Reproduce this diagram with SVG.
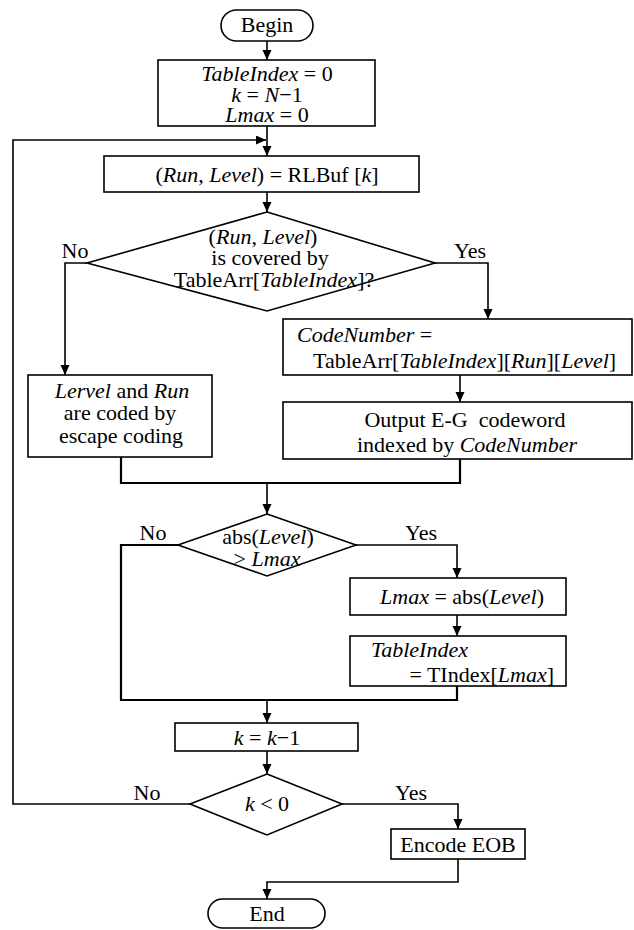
<svg xmlns="http://www.w3.org/2000/svg" width="634" height="930" viewBox="0 0 634 930" font-family="'Liberation Serif', 'Times New Roman', serif" font-size="22">
<style>
  .shape { fill: #ffffff; stroke: #000000; stroke-width: 1.6; }
  .wire { fill: none; stroke: #000000; stroke-width: 1.6; }
  .bold { stroke-width: 2.2; }
  .arrow { marker-end: url(#head); }
  .c { text-anchor: middle; }
  .i { font-style: italic; }
</style>
<defs>
  <marker id="head" markerUnits="userSpaceOnUse" markerWidth="11" markerHeight="10" refX="10" refY="4.5" orient="auto">
    <path d="M0,0 L10,4.5 L0,9 z" fill="#000000"/>
  </marker>
</defs>

<g id="connectors">
  <path class="wire arrow" d="M267,41 V60"/>
  <path class="wire arrow" d="M267,126 V156"/>
  <path class="wire arrow" d="M190,804 H13 V140 H266"/>
  <path class="wire arrow" d="M267,192 V212"/>
  <path class="wire arrow" d="M87,263 H65 V375"/>
  <path class="wire arrow" d="M435,263 H488 V319"/>
  <path class="wire arrow" d="M460,375 V402"/>
  <path class="wire bold" d="M121,457 V483 H460 V459"/>
  <path class="wire arrow" d="M267,483 V514"/>
  <path class="wire bold" d="M178,545 H121 V700 H457 V686"/>
  <path class="wire arrow" d="M356,545 H457 V578"/>
  <path class="wire arrow" d="M457,615 V636"/>
  <path class="wire arrow" d="M267,700 V723"/>
  <path class="wire arrow" d="M267,751 V774"/>
  <path class="wire arrow" d="M342,804 H458 V829"/>
  <path class="wire arrow" d="M458,859 V882 H267 V899"/>
  <text x="75" y="258" class="c">No</text>
  <text x="470" y="258" class="c">Yes</text>
  <text x="153" y="540" class="c">No</text>
  <text x="421" y="540" class="c">Yes</text>
  <text x="147" y="800" class="c">No</text>
  <text x="411" y="800" class="c">Yes</text>
</g>

<g id="begin">
  <rect class="shape" x="221" y="10" width="92" height="31" rx="15.5"/>
  <text x="267" y="32" class="c">Begin</text>
</g>

<g id="init">
  <rect class="shape" x="158" y="60" width="217" height="66"/>
  <text x="267" y="81" class="c"><tspan class="i">TableIndex</tspan> = 0</text>
  <text x="267" y="102" class="c"><tspan class="i">k</tspan> = <tspan class="i">N</tspan>−1</text>
  <text x="267" y="122" class="c"><tspan class="i">Lmax</tspan> = 0</text>
</g>

<g id="fetch">
  <rect class="shape" x="104" y="156" width="315" height="36"/>
  <text x="267" y="182" class="c">(<tspan class="i">Run</tspan>, <tspan class="i">Level</tspan>) = RLBuf [<tspan class="i">k</tspan>]</text>
</g>

<g id="covered">
  <polygon class="shape" points="267,212 435,263 267,311 87,263"/>
  <text x="263" y="244" class="c">(<tspan class="i">Run</tspan>, <tspan class="i">Level</tspan>)</text>
  <text x="270" y="265" class="c">is covered by</text>
  <text x="274" y="287" class="c">TableArr[<tspan class="i">TableIndex</tspan>]?</text>
</g>

<g id="codenumber">
  <rect class="shape" x="283" y="319" width="349" height="56"/>
  <text x="297" y="342"><tspan class="i">CodeNumber</tspan> =</text>
  <text x="313" y="368">TableArr[<tspan class="i">TableIndex</tspan>][<tspan class="i">Run</tspan>][<tspan class="i">Level</tspan>]</text>
</g>

<g id="escape">
  <rect class="shape" x="28" y="375" width="184" height="82"/>
  <text x="122" y="398" class="c"><tspan class="i">Lervel</tspan> and <tspan class="i">Run</tspan></text>
  <text x="120" y="420" class="c">are coded by</text>
  <text x="121" y="443" class="c">escape coding</text>
</g>

<g id="output">
  <rect class="shape" x="283" y="402" width="349" height="57"/>
  <text x="465" y="427" class="c" xml:space="preserve">Output E-G  codeword</text>
  <text x="467" y="452" class="c">indexed by <tspan class="i">CodeNumber</tspan></text>
</g>

<g id="compare">
  <polygon class="shape" points="267,514 356,545 267,576 178,545"/>
  <text x="268" y="544" class="c">abs(<tspan class="i">Level</tspan>)</text>
  <text x="267" y="566" class="c">&gt; <tspan class="i">Lmax</tspan></text>
</g>

<g id="update-lmax">
  <rect class="shape" x="350" y="578" width="216" height="37"/>
  <text x="462" y="604" class="c"><tspan class="i">Lmax</tspan> = abs(<tspan class="i">Level</tspan>)</text>
</g>

<g id="update-index">
  <rect class="shape" x="350" y="636" width="216" height="50"/>
  <text x="371" y="657" class="i">TableIndex</text>
  <text x="554" y="682" text-anchor="end">= TIndex[<tspan class="i">Lmax</tspan>]</text>
</g>

<g id="decrement">
  <rect class="shape" x="175" y="723" width="183" height="28"/>
  <text x="267" y="745" class="c"><tspan class="i">k</tspan> = <tspan class="i">k</tspan>−1</text>
</g>

<g id="done">
  <polygon class="shape" points="267,774 342,804 267,835 190,804"/>
  <text x="267" y="811" class="c"><tspan class="i">k</tspan> &lt; 0</text>
</g>

<g id="eob">
  <rect class="shape" x="391" y="829" width="134" height="30"/>
  <text x="458" y="852" class="c">Encode EOB</text>
</g>

<g id="end">
  <rect class="shape" x="208" y="899" width="117" height="29" rx="14.5"/>
  <text x="267" y="921" class="c">End</text>
</g>
</svg>
